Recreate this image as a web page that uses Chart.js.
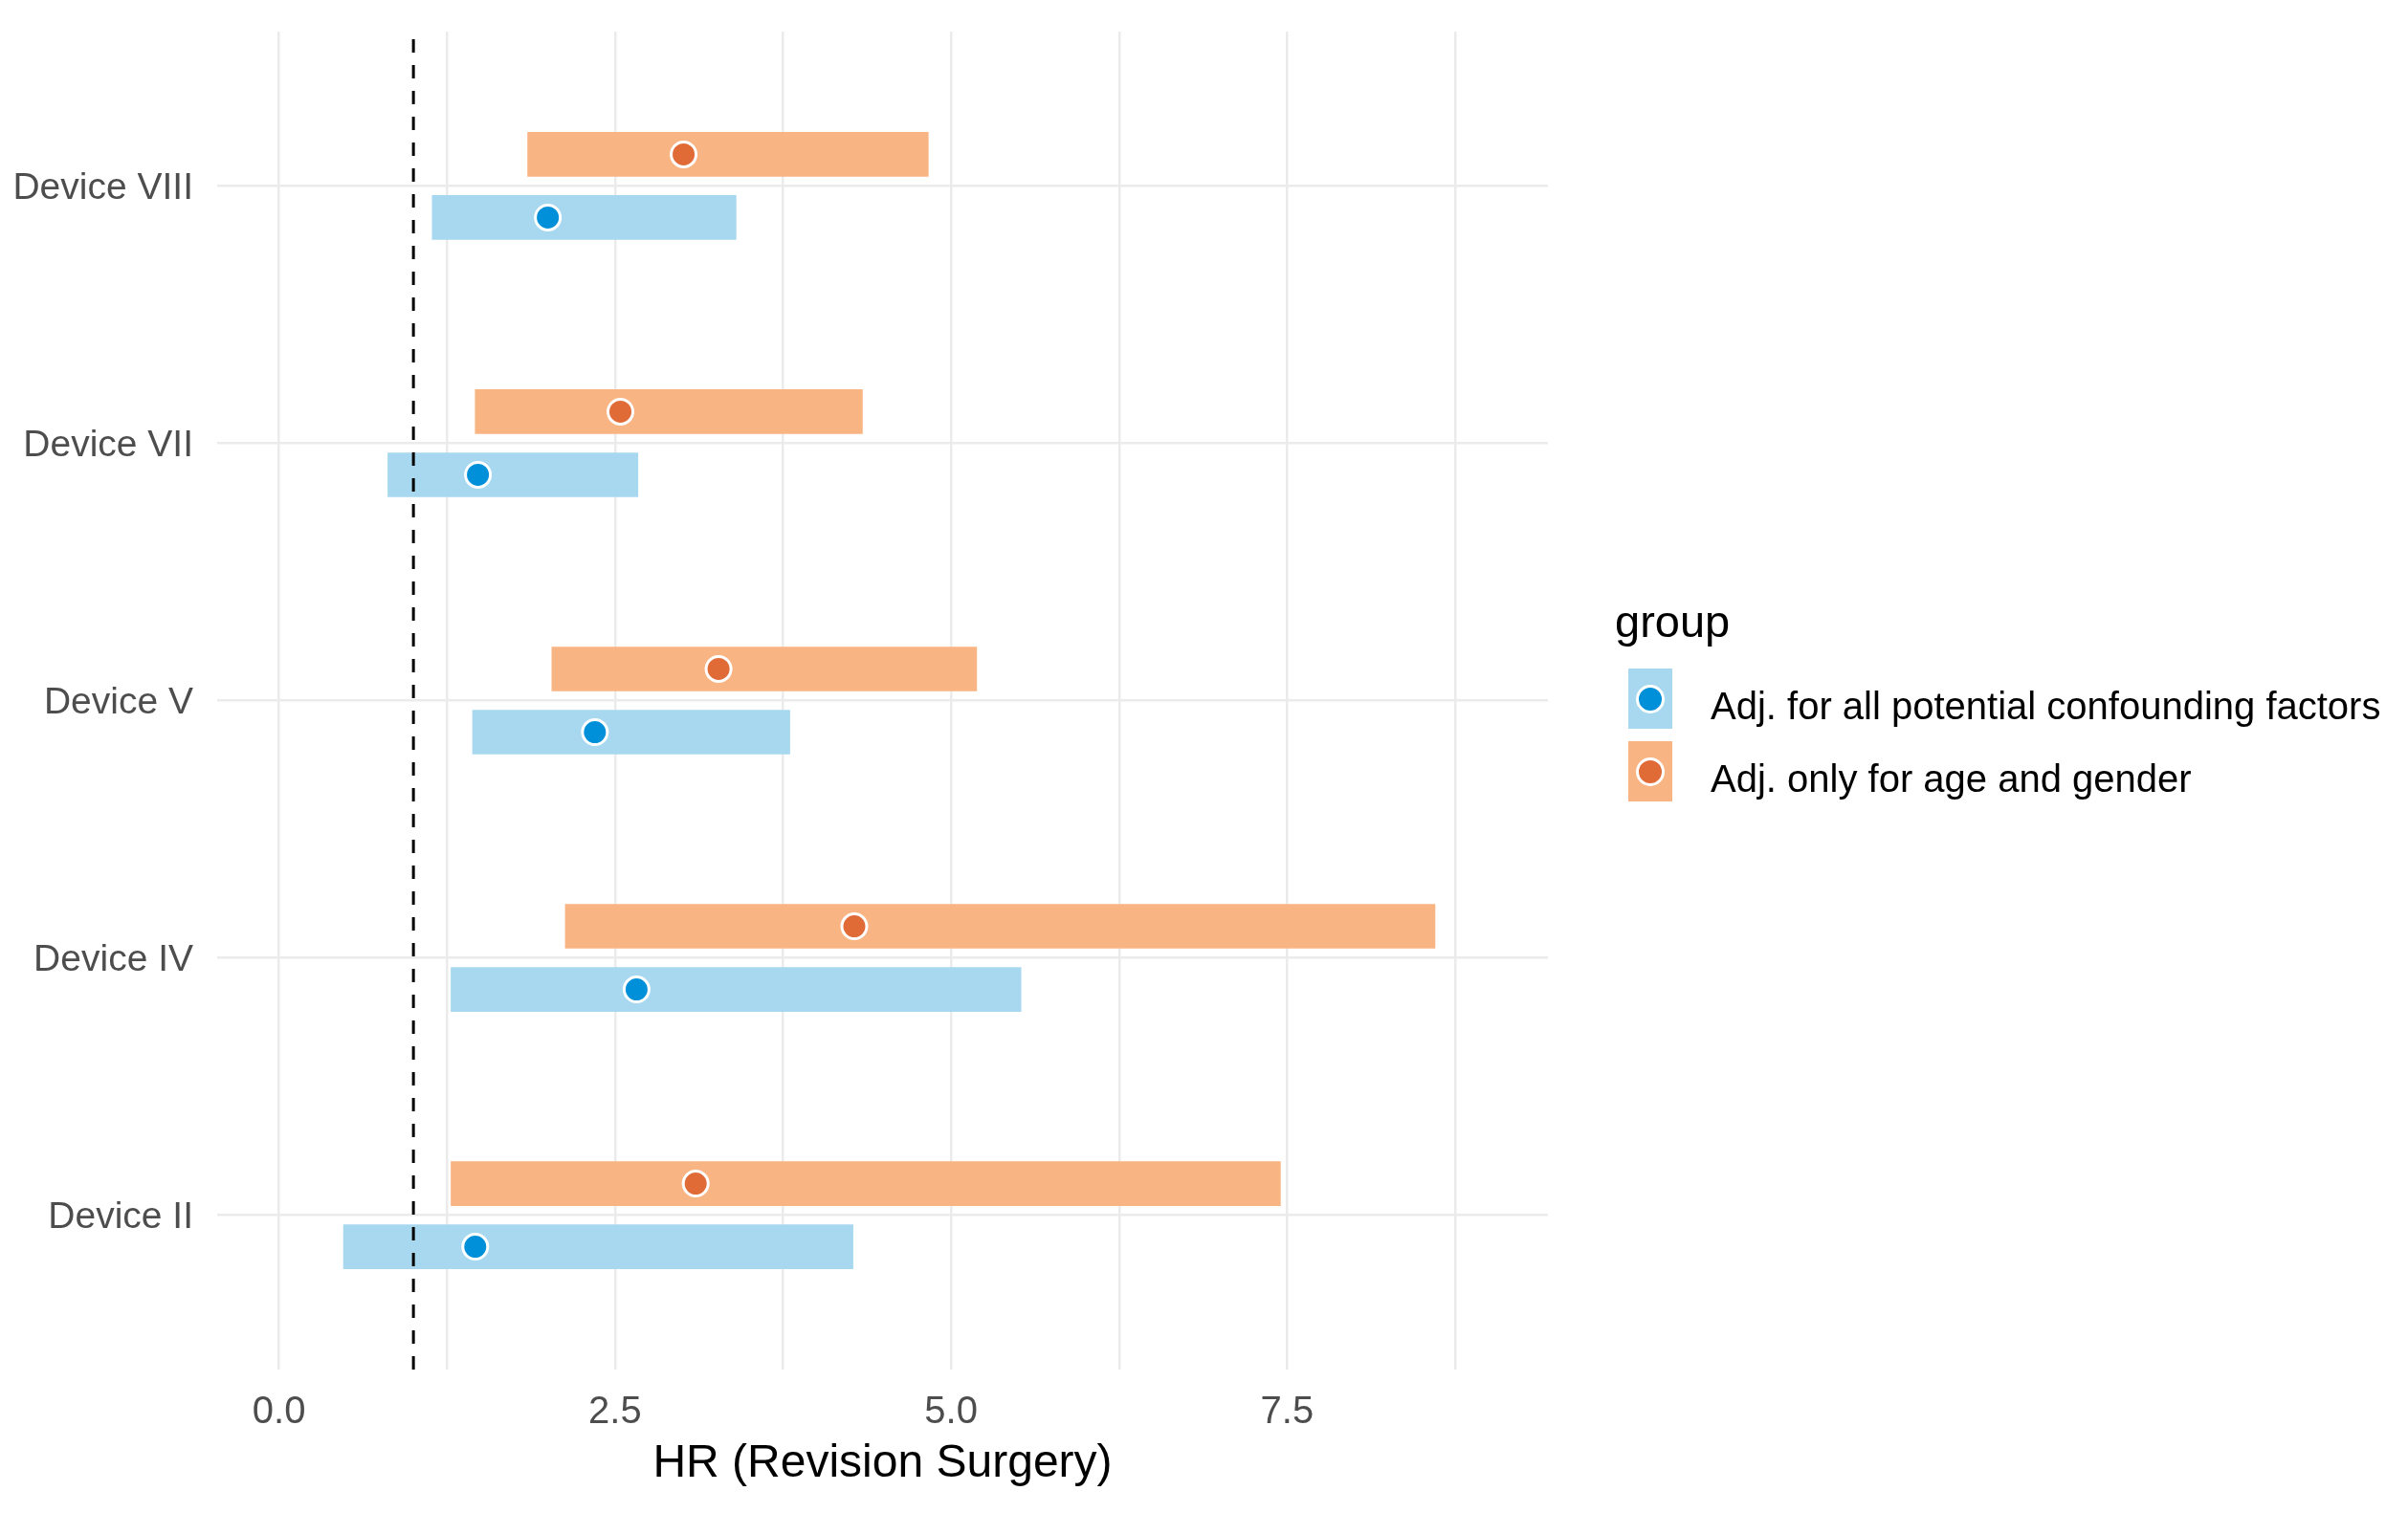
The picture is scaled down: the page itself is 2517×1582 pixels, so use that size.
<!DOCTYPE html>
<html>
<head>
<meta charset="utf-8">
<script src="https://cdn.jsdelivr.net/npm/chart.js@4.4.1/dist/chart.umd.min.js"></script>
<style>
  body { margin: 0; background: #fff; font-family: "Liberation Sans", Arial, sans-serif; }
  #wrap { position: relative; width: 2517px; height: 1582px; }
  #hr { position: absolute; left: 0; top: 0; }
  .legTitle { position: absolute; left: 1688px; top: 626px; font-size: 47px; line-height: 47px; color: #000; }
  .key { position: absolute; left: 1702px; width: 46px; height: 63px; }
  .key span { position: absolute; left: 8px; top: 17px; width: 24px; height: 24px; border: 3px solid #fff; border-radius: 50%; }
  .legText { position: absolute; left: 1788px; font-size: 40px; line-height: 40px; color: #000; white-space: nowrap; }
</style>
</head>
<body>
<div id="wrap">
  <canvas id="hr" width="2517" height="1582"></canvas>
  <div class="legTitle">group</div>
  <div class="key" style="top:699px;background:#A8D8EF"><span style="background:#0090DA"></span></div>
  <div class="legText" style="top:718px">Adj. for all potential confounding factors</div>
  <div class="key" style="top:775px;background:#F9B483"><span style="background:#E06B37"></span></div>
  <div class="legText" style="top:794px">Adj. only for age and gender</div>
</div>
<script>
// devices from bottom (1) to top (5)
const devices = ["Device II", "Device IV", "Device V", "Device VII", "Device VIII"];

// adjusted for all potential confounding factors
const allHR   = [1.46, 2.66, 2.35, 1.48, 2.00];
const allLow  = [0.48, 1.28, 1.44, 0.81, 1.14];
const allHigh = [4.27, 5.52, 3.80, 2.67, 3.40];

// adjusted only for age and gender
const ageHR   = [3.10, 4.28, 3.27, 2.54, 3.01];
const ageLow  = [1.28, 2.13, 2.03, 1.46, 1.85];
const ageHigh = [7.45, 8.60, 5.19, 4.34, 4.83];

const xMajor = [0, 2.5, 5, 7.5];
const xMinor = [1.25, 3.75, 6.25, 8.75];
const refHR = 1;

const dodge = 0.1227; // half the dodge width, in category units
const blueBar = "#A8D8EF", blueDot = "#0090DA";
const orangeBar = "#F9B483", orangeDot = "#E06B37";
const gridCol = "#EBEBEB";

function bars(lo, hi, off) {
  return devices.map((d, i) => ({ x: [lo[i], hi[i]], y: i + 1 + off }));
}
function dots(hr, off) {
  return devices.map((d, i) => ({ x: hr[i], y: i + 1 + off }));
}

const ctx = document.getElementById("hr").getContext("2d");
new Chart(ctx, {
  type: "bar",
  data: {
    datasets: [
      {
        type: "scatter", label: "all dots", data: dots(allHR, -dodge), order: 0,
        pointRadius: 13, pointBackgroundColor: blueDot, pointBorderColor: "#fff", pointBorderWidth: 3
      },
      {
        type: "scatter", label: "age dots", data: dots(ageHR, dodge), order: 0,
        pointRadius: 13, pointBackgroundColor: orangeDot, pointBorderColor: "#fff", pointBorderWidth: 3
      },
      {
        type: "line", label: "HR = 1", data: [{ x: refHR, y: 0.4 }, { x: refHR, y: 5.6 }], order: 1,
        borderColor: "#000", borderWidth: 3, borderDash: [14, 13], pointRadius: 0, fill: false
      },
      {
        label: "Adj. only for age and gender", data: bars(ageLow, ageHigh, dodge), order: 2,
        indexAxis: "y", backgroundColor: orangeBar, barThickness: 46, grouped: false, borderWidth: 0
      },
      {
        label: "Adj. for all potential confounding factors", data: bars(allLow, allHigh, -dodge), order: 2,
        indexAxis: "y", backgroundColor: blueBar, barThickness: 46, grouped: false, borderWidth: 0
      }
    ]
  },
  options: {
    responsive: false,
    devicePixelRatio: 1,
    animation: false,
    layout: { padding: { top: 33, left: 0, right: 899, bottom: 0 } },
    plugins: { legend: { display: false }, tooltip: { enabled: false } },
    scales: {
      x: {
        type: "linear", min: -0.46, max: 9.44, offset: false,
        afterBuildTicks: axis => { axis.ticks = xMajor.concat(xMinor).sort((a, b) => a - b).map(v => ({ value: v })); },
        afterFit: axis => { axis.height = 150; axis.paddingLeft = 0; axis.paddingRight = 0; },
        grid: { color: gridCol, lineWidth: 2.5, drawTicks: false, offset: false },
        border: { display: false },
        ticks: {
          autoSkip: false, maxRotation: 0, padding: 21, color: "#4D4D4D",
          font: { family: "Liberation Sans", size: 40 },
          callback: v => xMajor.includes(v) ? v.toFixed(1) : ""
        },
        title: {
          display: true, text: "HR (Revision Surgery)", color: "#000",
          font: { family: "Liberation Sans", size: 48 }, padding: { top: 0, bottom: 22 }
        }
      },
      y: {
        type: "linear", min: 0.4, max: 5.6, offset: false,
        afterBuildTicks: axis => { axis.ticks = devices.map((d, i) => ({ value: i + 1 })); },
        afterFit: axis => { axis.width = 227; axis.paddingTop = 0; axis.paddingBottom = 0; },
        grid: { color: gridCol, lineWidth: 2.5, drawTicks: false, offset: false },
        border: { display: false },
        ticks: {
          autoSkip: false, padding: 25, labelOffset: 3, color: "#4D4D4D",
          font: { family: "Liberation Sans", size: 39 },
          callback: v => devices[v - 1]
        }
      }
    }
  }
});
</script>
</body>
</html>
